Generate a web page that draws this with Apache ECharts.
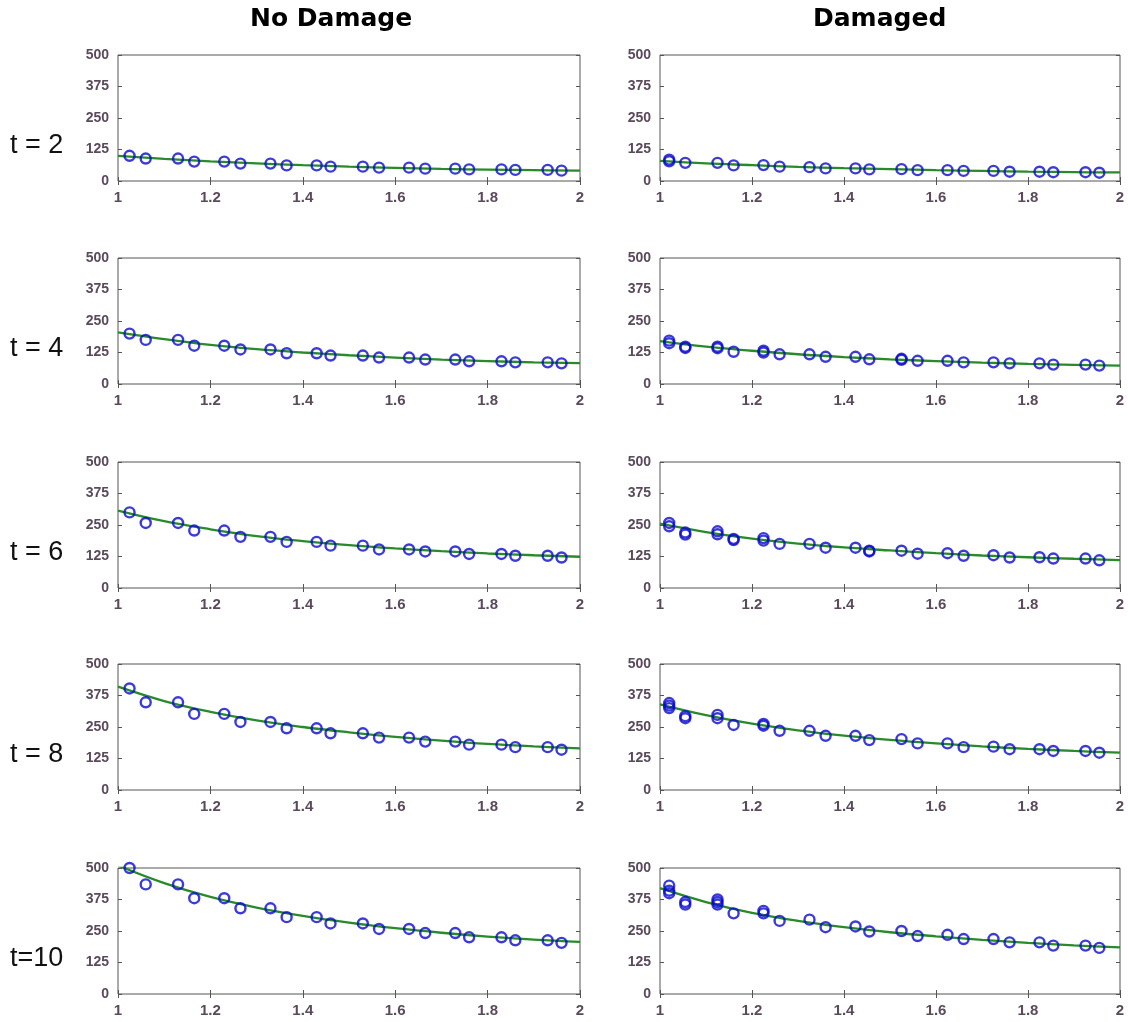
<!DOCTYPE html>
<html><head><meta charset="utf-8">
<script src="https://cdn.jsdelivr.net/npm/echarts@6/dist/echarts.min.js"></script>
<style>html,body{margin:0;padding:0;background:#fff}#c{width:1128px;height:1022px}</style>
</head><body><div id="c"></div>
<script>
// ---- data ----
const colTitles = ["No Damage", "Damaged"];
const rowLabels = ["t = 2", "t = 4", "t = 6", "t = 8", "t=10"];
const xTickLabels = ["1", "1.2", "1.4", "1.6", "1.8", "2"];
const yTickLabels = ["0", "125", "250", "375", "500"];

const xNoDamage = [1.025,1.06,1.13,1.165,1.23,1.265,1.33,1.365,1.43,1.46,1.53,1.565,1.63,1.665,1.73,1.76,1.83,1.86,1.93,1.96];
const xDamaged  = [1.02,1.055,1.125,1.16,1.225,1.26,1.325,1.36,1.425,1.455,1.525,1.56,1.625,1.66,1.725,1.76,1.825,1.855,1.925,1.955];
const xFit = [1.0,1.1,1.2,1.3,1.4,1.5,1.6,1.7,1.8,1.9,2.0];

// No Damage measured points
const nd_t2  = [100,89,89,77,77,69,69,62,62,57,57,53,53,49,49,46,46,44,44,41];
const nd_t4  = [200,175,175,152,152,137,137,122,122,113,113,105,105,97,97,90,90,86,86,82];
const nd_t6  = [300,258,258,228,228,203,203,183,183,168,168,153,153,145,145,135,135,128,128,121];
const nd_t8  = [403,348,348,302,302,270,270,245,245,225,225,208,208,192,192,180,180,170,170,160];
const nd_t10 = [500,435,435,380,380,340,340,305,305,280,280,258,258,242,242,225,225,213,213,203];
// No Damage fitted curves (at xFit)
const ndFit_t2  = [100,88,78,70,63,57,52,48,45,43,41];
const ndFit_t4  = [205,178,155,138,125,114,105,97,91,86,83];
const ndFit_t6  = [307,265,233,206,186,170,157,146,137,130,124];
const ndFit_t8  = [410,353,310,276,250,229,211,196,183,173,165];
const ndFit_t10 = [510,440,385,343,310,283,261,243,228,216,207];

// Damaged measured points
const d_t2  = [85,72,72,62,63,57,55,50,50,46,47,43,43,40,40,37,37,35,35,33];
const d_t4  = [172,148,148,128,132,118,118,108,108,98,100,92,92,86,86,82,82,77,77,73];
const d_t6  = [258,220,225,195,198,175,175,160,160,148,148,136,138,128,130,121,122,117,117,110];
const d_t8  = [345,293,298,258,262,235,235,215,215,198,202,185,185,170,172,162,162,155,155,148];
const d_t10 = [430,365,375,320,330,290,295,265,268,248,250,230,235,218,218,205,205,192,192,183];
// Damaged repeated measurements (extra circles) [x, y]
const dExtra_t2  = [[1.02,78]];
const dExtra_t4  = [[1.02,162],[1.055,143],[1.125,142],[1.225,125],[1.525,96]];
const dExtra_t6  = [[1.02,245],[1.055,212],[1.125,213],[1.16,190],[1.225,188],[1.455,145]];
const dExtra_t8  = [[1.02,325],[1.02,335],[1.055,285],[1.125,285],[1.225,255]];
const dExtra_t10 = [[1.02,410],[1.02,400],[1.055,355],[1.125,365],[1.125,355],[1.225,320]];
// Damaged fitted curves (at xFit)
const dFit_t2  = [80,70,63,56,51,47,43,40,37,35,34];
const dFit_t4  = [170,148,132,118,107,98,91,85,80,76,73];
const dFit_t6  = [255,222,196,176,161,149,138,129,122,116,111];
const dFit_t8  = [340,297,263,237,216,199,185,173,163,155,148];
const dFit_t10 = [420,365,322,290,265,245,229,215,203,193,185];

const ndPts = [nd_t2, nd_t4, nd_t6, nd_t8, nd_t10];
const ndFits = [ndFit_t2, ndFit_t4, ndFit_t6, ndFit_t8, ndFit_t10];
const dPts = [d_t2, d_t4, d_t6, d_t8, d_t10];
const dFits = [dFit_t2, dFit_t4, dFit_t6, dFit_t8, dFit_t10];
const dExtras = [dExtra_t2, dExtra_t4, dExtra_t6, dExtra_t8, dExtra_t10];

// ---- layout ----
const colLeft = [118, 660];
const colWidth = [462, 460];
const rowTop = [55, 258, 462, 664, 868];
const plotH = 126;

const labelColor = '#5a4a5c';
const tickFont = '"Liberation Sans Narrow", "Liberation Sans", Arial, sans-serif';
const font = '"Liberation Sans", Arial, sans-serif';
const pointColor = '#0a0ad0';
const lineColor = '#288a28';

const grids = [], xAxes = [], yAxes = [], series = [], graphics = [];
let gi = 0;
for (let r = 0; r < 5; r++) {
  for (let c = 0; c < 2; c++) {
    grids.push({left: colLeft[c], top: rowTop[r], width: colWidth[c], height: plotH,
      show: true, borderColor: '#555', borderWidth: 1, backgroundColor: '#fff'});
    const xBase = {gridIndex: gi, type: 'value', min: 1, max: 2, interval: 0.2,
      splitLine: {show: false}, axisLine: {show: false}};
    xAxes.push(Object.assign({}, xBase, {position: 'bottom',
      axisTick: {inside: true, length: 4, lineStyle: {color: '#555'}},
      axisLabel: {color: labelColor, fontFamily: tickFont, fontSize: 15, fontWeight: 'bold', margin: 9,
        formatter: v => { const i = Math.round((v - 1) / 0.2); return xTickLabels[i] ?? ''; }}}));
    xAxes.push(Object.assign({}, xBase, {position: 'top',
      axisTick: {inside: true, length: 4, lineStyle: {color: '#555'}}, axisLabel: {show: false}}));
    const yBase = {gridIndex: gi, type: 'value', min: 0, max: 500, interval: 125,
      splitLine: {show: false}, axisLine: {show: false}};
    yAxes.push(Object.assign({}, yBase, {position: 'left',
      axisTick: {inside: true, length: 4, lineStyle: {color: '#555'}},
      axisLabel: {color: labelColor, fontFamily: tickFont, fontSize: 14, fontWeight: 'bold', margin: 9,
        formatter: v => yTickLabels[Math.round(v / 125)] ?? ''}}));
    yAxes.push(Object.assign({}, yBase, {position: 'right',
      axisTick: {inside: true, length: 4, lineStyle: {color: '#555'}}, axisLabel: {show: false}}));

    const xi = gi * 2, yi = gi * 2;
    const fit = c === 0 ? ndFits[r] : dFits[r];
    series.push({type: 'line', xAxisIndex: xi, yAxisIndex: yi, smooth: 0.4, showSymbol: false,
      silent: true, z: 2, clip: true,
      lineStyle: {color: lineColor, width: 2.3},
      data: xFit.map((x, i) => [x, fit[i]])});
    const xs = c === 0 ? xNoDamage : xDamaged;
    const ys = c === 0 ? ndPts[r] : dPts[r];
    let pts = xs.map((x, i) => [x, ys[i]]);
    if (c === 1) pts = pts.concat(dExtras[r]);
    series.push({type: 'scatter', xAxisIndex: xi, yAxisIndex: yi, symbol: 'circle', symbolSize: 10,
      z: 3, silent: true,
      itemStyle: {color: 'rgba(0,0,0,0)', borderColor: pointColor, borderWidth: 2.4},
      data: pts});
    gi++;
  }
  graphics.push({type: 'text', left: 10, top: rowTop[r] + 77,
    style: {text: rowLabels[r], font: '27px ' + font, fill: '#111'}});
}
graphics.push({type: 'text', left: 250, top: 7, style: {text: colTitles[0], font: 'bold 25px "DejaVu Sans", sans-serif', fill: '#000'}});
graphics.push({type: 'text', left: 813, top: 7, style: {text: colTitles[1], font: 'bold 25px "DejaVu Sans", sans-serif', fill: '#000'}});

const chart = echarts.init(document.getElementById('c'), null, {renderer: 'canvas'});
chart.setOption({animation: false, grid: grids, xAxis: xAxes, yAxis: yAxes, series: series, graphic: graphics});
</script></body></html>
